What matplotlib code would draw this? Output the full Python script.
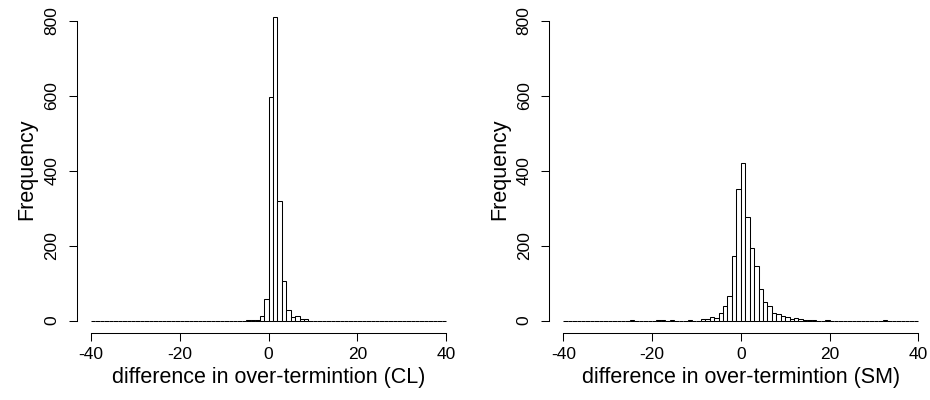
import numpy as np
import matplotlib
matplotlib.use("Agg")
import matplotlib.pyplot as plt

plt.rcParams["font.family"] = ["Liberation Sans", "DejaVu Sans"]

# histogram bins: unit width from -40 to 40
bin_lo, bin_hi = -40, 40

# left panel (CL): left edge of bin -> count
cl_bins = [-5, -4, -3, -2, -1, 0, 1, 2, 3, 4, 5, 6, 7, 8]
cl_counts = [1, 1, 1, 12, 57, 596, 809, 320, 106, 28, 9, 12, 4, 5]

# right panel (SM)
sm_bins = [-25, -19, -18, -16, -12, -9, -8, -7, -6, -5, -4, -3, -2, -1, 0, 1, 2, 3,
           4, 5, 6, 7, 8, 9, 10, 11, 12, 13, 14, 15, 16, 19, 32]
sm_counts = [1, 1, 1, 1, 1, 5, 4, 9, 8, 20, 39, 66, 172, 351, 421, 277, 193, 145,
             85, 51, 39, 20, 18, 13, 9, 5, 7, 4, 3, 2, 1, 1, 1]

xlabels = ["difference in over-termintion (CL)", "difference in over-termintion (SM)"]
xticks = [-40, -20, 0, 20, 40]
yticks = [0, 200, 400, 600, 800]


def full_counts(bins, counts):
    out = np.zeros(bin_hi - bin_lo)
    for b, c in zip(bins, counts):
        out[b - bin_lo] = c
    return out


fig = plt.figure(figsize=(9.3, 4.0), dpi=100)
panels = [(cl_bins, cl_counts), (sm_bins, sm_counts)]
lefts = [0.0826, 0.5904]

for left, (bins, counts), xlab in zip(lefts, panels, xlabels):
    ax = fig.add_axes([left, 0.168, 0.4123, 0.820])
    edges = np.arange(bin_lo, bin_hi)
    ax.bar(edges, full_counts(bins, counts), width=1, align="edge",
           facecolor="white", edgecolor="black", linewidth=0.75)
    ax.set_xlim(-43.2, 43.2)
    ax.set_ylim(-32.4, 842.4)

    for s in ["top", "right"]:
        ax.spines[s].set_visible(False)
    ax.spines["bottom"].set_bounds(-40, 40)
    ax.spines["left"].set_bounds(0, 800)
    for s in ["bottom", "left"]:
        ax.spines[s].set_linewidth(0.75)

    ax.set_xticks(xticks)
    ax.set_xticklabels([str(t) for t in xticks])
    ax.set_yticks(yticks)
    ax.set_yticklabels([str(t) for t in yticks], rotation=90, va="center")
    ax.tick_params(length=5.5, width=0.75, labelsize=12.5)
    ax.tick_params(axis="x", pad=5)
    ax.tick_params(axis="y", pad=7)
    ax.set_xlabel(xlab, fontsize=15.5, labelpad=3)
    ax.set_ylabel("Frequency", fontsize=15.5, labelpad=5)

fig.savefig("out.png", dpi=100)
